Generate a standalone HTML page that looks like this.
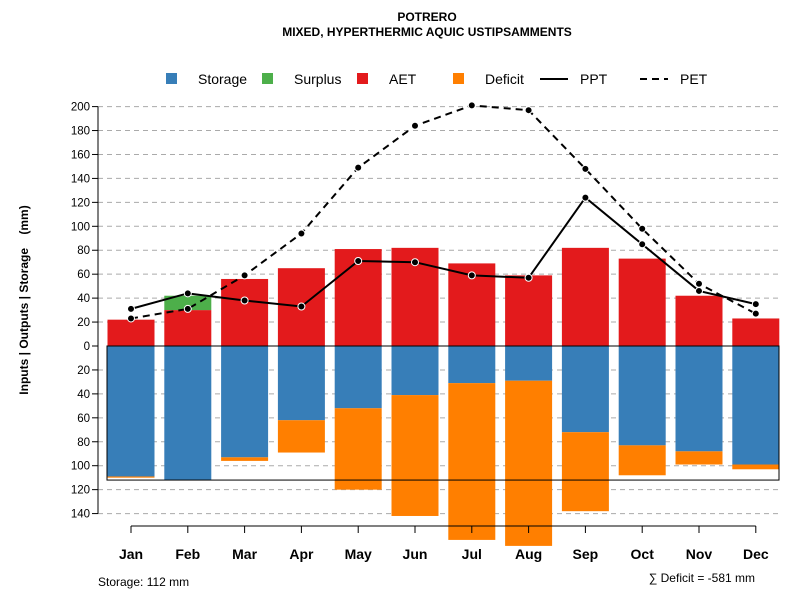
<!DOCTYPE html>
<html><head><meta charset="utf-8"><style>
body{margin:0;background:#fff;font-family:"Liberation Sans",Arial,sans-serif}
svg text{font-family:"Liberation Sans",Arial,sans-serif}
</style></head><body>
<svg id="c" width="800" height="600" xmlns="http://www.w3.org/2000/svg"></svg>
<script>
const months=["Jan","Feb","Mar","Apr","May","Jun","Jul","Aug","Sep","Oct","Nov","Dec"];
const aet=[22,30,56,65,81,82,69,59,82,73,42,23];
const surplus=[0,12,0,0,0,0,0,0,0,0,0,0];
const storage=[109,112,93,62,52,41,31,29,72,83,88,99];
const deficit=[1,0,3,27,68,101,131,138,66,25,11,4];
const ppt=[31,44,38,33,71,70,59,57,124,85,46,35];
const pet=[23,31,59,94,149,184,201,197,148,98,52,27];
const posTicks=[0,20,40,60,80,100,120,140,160,180,200];
const negTicks=[20,40,60,80,100,120,140];
const storageCap=112;
const NS="http://www.w3.org/2000/svg";
const svg=document.getElementById('c');
function y(v){return 346-v*1.197;}
function x(i){return 131+i*56.8;}
function el(t,a,p){const e=document.createElementNS(NS,t);for(const k in a)e.setAttribute(k,a[k]);(p||svg).appendChild(e);return e;}
function txt(s,a){const e=el('text',a);e.textContent=s;return e;}
let t=txt("POTRERO",{x:427,y:21,'text-anchor':'middle','font-size':12,'font-weight':'bold'});

t=txt("MIXED, HYPERTHERMIC AQUIC USTIPSAMMENTS",{x:427,y:36,'text-anchor':'middle','font-size':12,'font-weight':'bold'});

posTicks.forEach(v=>{if(v>0){const g=el('line',{x1:98,x2:780,y1:y(v),y2:y(v),stroke:'#aaa','stroke-dasharray':'5,4'});}});
negTicks.forEach(v=>{const g=el('line',{x1:98,x2:780,y1:y(-v),y2:y(-v),stroke:'#aaa','stroke-dasharray':'5,4'});});
const bw=47;
months.forEach((m,i)=>{
 let r=el('rect',{x:x(i)-bw/2,y:y(aet[i]),width:bw,height:y(0)-y(aet[i]),fill:'#e31a1c'});
 
 if(surplus[i]>0){r=el('rect',{x:x(i)-bw/2,y:y(aet[i]+surplus[i]),width:bw,height:y(aet[i])-y(aet[i]+surplus[i]),fill:'#4daf4a'});
 }
 r=el('rect',{x:x(i)-bw/2,y:y(0),width:bw,height:y(-storage[i])-y(0),fill:'#377eb8'});
 
 if(deficit[i]>0){r=el('rect',{x:x(i)-bw/2,y:y(-storage[i]),width:bw,height:y(-storage[i]-deficit[i])-y(-storage[i]),fill:'#ff7f00'});
 }
});
let box=el('rect',{x:107,y:y(0),width:672,height:y(-storageCap)-y(0),fill:'none',stroke:'#000','stroke-width':1});

function line(arr,dash,name){
 const p=el('polyline',{points:arr.map((v,i)=>x(i)+','+y(v)).join(' '),fill:'none',stroke:'#000','stroke-width':2,'stroke-dasharray':dash});
 
 arr.forEach((v,i)=>{const c=el('circle',{cx:x(i),cy:y(v),r:3.5,fill:'#000',stroke:'#fff','stroke-width':1});
 });
}
line(pet,'7,5','pet');line(ppt,'none','ppt');
el('line',{x1:98,x2:98,y1:y(200),y2:y(-140),stroke:'#000'});
posTicks.forEach(v=>{el('line',{x1:92,x2:98,y1:y(v),y2:y(v),stroke:'#000'});
 const l=txt(String(v),{x:90,y:y(v)+4,'text-anchor':'end','font-size':11.5});});
negTicks.forEach(v=>{el('line',{x1:92,x2:98,y1:y(-v),y2:y(-v),stroke:'#000'});
 const l=txt(String(v),{x:90,y:y(-v)+4,'text-anchor':'end','font-size':11.5});});
t=txt("Inputs | Outputs | Storage    (mm)",{x:0,y:0,'text-anchor':'middle','font-size':12,'font-weight':'bold',transform:'translate(28,300) rotate(-90)','xml:space':'preserve'});
t.style.whiteSpace='pre';

el('line',{x1:x(0),x2:x(11),y1:526,y2:526,stroke:'#000'});
months.forEach((m,i)=>{el('line',{x1:x(i),x2:x(i),y1:526,y2:533,stroke:'#000'});
 const l=txt(m,{x:x(i),y:559,'text-anchor':'middle','font-size':14,'font-weight':'bold'});});
t=txt("Storage: 112 mm",{x:98,y:586,'font-size':12});
t=txt("∑ Deficit = -581 mm",{x:755,y:582,'text-anchor':'end','font-size':12});
const leg=[["Storage",'#377eb8',166],["Surplus",'#4daf4a',262],["AET",'#e31a1c',357],["Deficit",'#ff7f00',453]];
leg.forEach(([n,c,lx])=>{const g=el('g',{});
 el('rect',{x:lx,y:73,width:11,height:11,fill:c},g);const tt=el('text',{x:lx+32,y:84,'font-size':14},g);tt.textContent=n;});
[["PPT",'none',540],["PET",'7,5',640]].forEach(([n,d,lx])=>{const g=el('g',{});
 el('line',{x1:lx,x2:lx+28,y1:79,y2:79,stroke:'#000','stroke-width':2,'stroke-dasharray':d},g);const tt=el('text',{x:lx+40,y:84,'font-size':14},g);tt.textContent=n;});
</script>
</body></html>
